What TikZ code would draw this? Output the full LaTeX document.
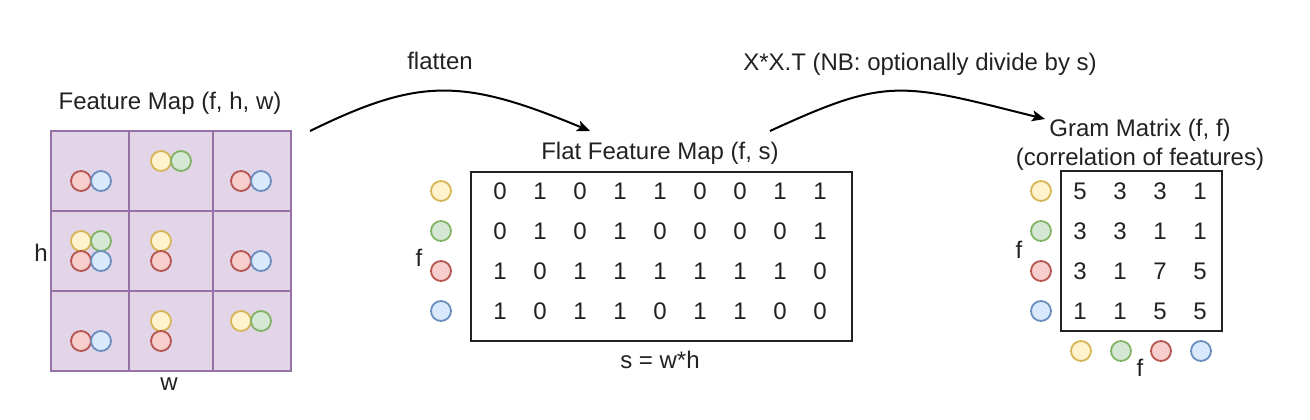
\documentclass[tikz,border=0pt]{standalone}
\usepackage{fontspec}
\setmainfont{Liberation Sans}
\usetikzlibrary{arrows.meta}
\definecolor{tcol}{HTML}{222222}
\definecolor{pfill}{HTML}{E1D5E7}
\definecolor{pstroke}{HTML}{9673A6}
\definecolor{yfill}{HTML}{FFF2CC}
\definecolor{ystroke}{HTML}{D6B656}
\definecolor{gfill}{HTML}{D5E8D4}
\definecolor{gstroke}{HTML}{82B366}
\definecolor{rfill}{HTML}{F8CECC}
\definecolor{rstroke}{HTML}{B85450}
\definecolor{bfill}{HTML}{DAE8FC}
\definecolor{bstroke}{HTML}{6C8EBF}
\begin{document}
\begin{tikzpicture}[x=1pt,y=-1pt,
  txt/.style={font=\fontsize{24}{29}\selectfont, text=tcol, inner sep=0pt, text height=17.2pt, text depth=0pt},
  num/.style={txt},
  cellbox/.style={draw=pstroke, fill=pfill, line width=2pt, minimum height=80pt, inner sep=0pt},
  matbox/.style={draw=tcol, line width=2pt, inner sep=0pt},
  dot/.style={circle, minimum size=20pt, inner sep=0pt, line width=1.8pt},
  dotY/.style={dot, draw=ystroke, fill=yfill},
  dotG/.style={dot, draw=gstroke, fill=gfill},
  dotR/.style={dot, draw=rstroke, fill=rfill},
  dotB/.style={dot, draw=bstroke, fill=bfill},
  conn/.style={draw=black, line width=2pt, -{Stealth[length=13pt,width=11pt,inset=3pt]}}
]
\useasboundingbox (0,0) rectangle (1310,420);

% ---------- Feature map grid ----------
\node[cellbox, minimum width=78pt] (c11) at (90,170.7) {};
\node[cellbox, minimum width=84pt] (c12) at (171,170.7) {};
\node[cellbox, minimum width=78pt] (c13) at (252,170.7) {};
\node[cellbox, minimum width=78pt] (c21) at (90,250.7) {};
\node[cellbox, minimum width=84pt] (c22) at (171,250.7) {};
\node[cellbox, minimum width=78pt] (c23) at (252,250.7) {};
\node[cellbox, minimum width=78pt] (c31) at (90,330.7) {};
\node[cellbox, minimum width=84pt] (c32) at (171,330.7) {};
\node[cellbox, minimum width=78pt] (c33) at (252,330.7) {};

% circles in cells
\node[dotR] (g11r) at (81,181) {};
\node[dotB] (g11b) at (101,181) {};
\node[dotY] (g12y) at (161,161) {};
\node[dotG] (g12g) at (181,161) {};
\node[dotR] (g13r) at (241,181) {};
\node[dotB] (g13b) at (261,181) {};
\node[dotY] (g21y) at (81,241) {};
\node[dotG] (g21g) at (101,241) {};
\node[dotR] (g21r) at (81,261) {};
\node[dotB] (g21b) at (101,261) {};
\node[dotY] (g22y) at (161,241) {};
\node[dotR] (g22r) at (161,261) {};
\node[dotR] (g23r) at (241,261) {};
\node[dotB] (g23b) at (261,261) {};
\node[dotR] (g31r) at (81,341) {};
\node[dotB] (g31b) at (101,341) {};
\node[dotY] (g32y) at (161,321) {};
\node[dotR] (g32r) at (161,341) {};
\node[dotY] (g33y) at (241,321) {};
\node[dotG] (g33g) at (261,321) {};

\node[txt] (tfm) at (170,101) {Feature Map (f, h, w)};
\node[txt] (th) at (41,253) {h};
\node[txt] (tw) at (169,382) {w};

% ---------- Flat feature map ----------
\node[matbox, minimum width=381pt, minimum height=169pt] (flat) at (661.5,256.5) {};
\node[txt] (tflat) at (660,151) {Flat Feature Map (f, s)};
\node[txt] (tf1) at (419,258) {f};
\node[txt] (ts) at (660,360) {s = w*h};
\node[dotY] (fy) at (441,191) {};
\node[dotG] (fg) at (441,231) {};
\node[dotR] (fr) at (441,271) {};
\node[dotB] (fb) at (441,311) {};
\foreach \row [count=\i] in {{0,1,0,1,1,0,0,1,1},{0,1,0,1,0,0,0,0,1},{1,0,1,1,1,1,1,1,0},{1,0,1,1,0,1,1,0,0}}{
  \foreach \v [count=\j] in \row {
    \node[num] (m\i-\j) at ({460+40*\j},{151+40*\i}) {\v};
  }
}

% ---------- Gram matrix ----------
\node[matbox, minimum width=161pt, minimum height=160pt] (gram) at (1141.5,251) {};
\node[txt] (tg1) at (1140,128) {Gram Matrix (f, f)};
\node[txt] (tg2) at (1140,157) {(correlation of features)};
\node[txt] (tf2) at (1019,250) {f};
\node[txt] (tf3) at (1140,368) {f};
\node[dotY] (ly) at (1041,191) {};
\node[dotG] (lg) at (1041,231) {};
\node[dotR] (lr) at (1041,271) {};
\node[dotB] (lb) at (1041,311) {};
\node[dotY] (by) at (1081,351) {};
\node[dotG] (bg) at (1121,351) {};
\node[dotR] (br) at (1161,351) {};
\node[dotB] (bb) at (1201,351) {};
\foreach \row [count=\i] in {{5,3,3,1},{3,3,1,1},{3,1,7,5},{1,1,5,5}}{
  \foreach \v [count=\j] in \row {
    \node[num] (n\i-\j) at ({1040+40*\j},{151+40*\i}) {\v};
  }
}

% ---------- arrows ----------
\coordinate (a1s) at (310,131);
\coordinate (a1e) at (590,131);
\coordinate (a2s) at (770,131);
\coordinate (a2e) at (1045,119);
\draw[conn] (a1s) .. controls (419,77.7) and (462,77.7) .. (a1e);
\draw[conn] (a2s) .. controls (887.8,76.8) and (899.2,82.5) .. (a2e);
\node[txt] (tflatten) at (440,61) {flatten};
\node[txt] (txx) at (920,62) {X*X.T (NB: optionally divide by s)};
\end{tikzpicture}
\end{document}
